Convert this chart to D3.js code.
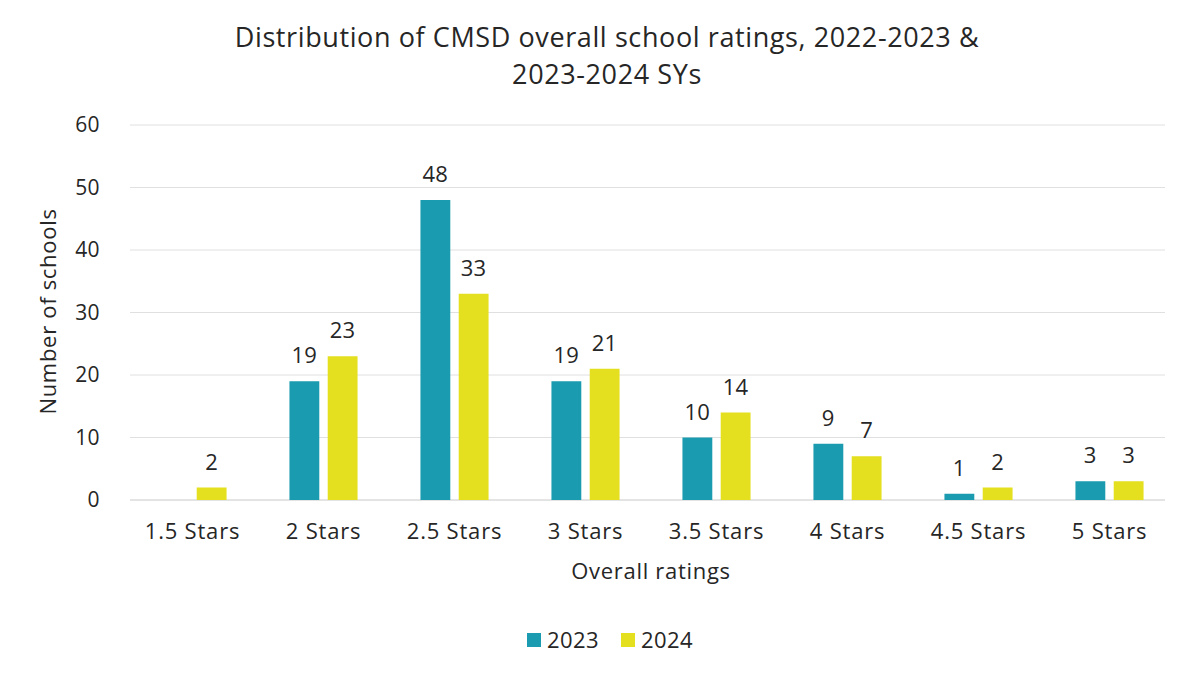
<!DOCTYPE html>
<html>
<head>
<meta charset="utf-8">
<script src="https://cdn.jsdelivr.net/npm/d3@7"></script>
<style>
  body { margin: 0; background: #fff; }
  text { font-family: "Open Sans", "Liberation Sans", Arial, sans-serif; fill: #262626; letter-spacing: 0.4px; }
</style>
</head>
<body>
<div id="Chart"></div>
<script>
var categories = ["1.5 Stars", "2 Stars", "2.5 Stars", "3 Stars", "3.5 Stars", "4 Stars", "4.5 Stars", "5 Stars"];
var seriesNames = ["2023", "2024"];
var values2023 = [0, 19, 48, 19, 10, 9, 1, 3];
var values2024 = [2, 23, 33, 21, 14, 7, 2, 3];
var yTicks = [0, 10, 20, 30, 40, 50, 60];
var colors = {"2023": "#1a9bb0", "2024": "#e4e01f"};

var data = categories.map(function(c, i) {
  return {cat: c, vals: [{s: "2023", v: values2023[i]}, {s: "2024", v: values2024[i]}]};
});

var W = 1181, H = 677;
var margin = {top: 125, right: 6, bottom: 177, left: 127},
    width = W - margin.left - margin.right,
    height = H - margin.top - margin.bottom;

var svg = d3.select("#Chart").append("svg")
    .attr("width", W).attr("height", H);

var g = svg.append("g")
    .attr("transform", "translate(" + margin.left + "," + margin.top + ")");

var x = d3.scaleBand().domain(categories).range([0, width]).paddingInner(0.48).paddingOuter(0.24);
var xs = d3.scaleBand().domain(seriesNames).range([0, x.bandwidth()]).paddingInner(0.22);
var y = d3.scaleLinear().domain([0, 60]).range([height, 0]);

// gridlines
g.selectAll(".grid").data(yTicks).enter().append("line")
  .attr("x1", 3).attr("x2", width - 10)
  .attr("y1", function(d) { return y(d); }).attr("y2", function(d) { return y(d); })
  .attr("stroke", function(d) { return d === 0 ? "#c8c8c8" : "#e0e0e0"; })
  .attr("stroke-width", 1);

// y tick labels
g.selectAll(".ytick").data(yTicks).enter().append("text")
  .attr("x", -27).attr("y", function(d) { return y(d); })
  .attr("dy", "0.35em").attr("text-anchor", "end")
  .style("font-size", "21px")
  .text(function(d) { return d; });

// x tick labels
g.selectAll(".xtick").data(categories).enter().append("text")
  .attr("x", function(d) { return x(d) + x.bandwidth() / 2; })
  .attr("y", height + 39)
  .attr("text-anchor", "middle")
  .style("font-size", "22px").style("letter-spacing", "0.8px")
  .text(function(d) { return d; });

// bars
var groups = g.selectAll(".grp").data(data).enter().append("g")
  .attr("transform", function(d) { return "translate(" + x(d.cat) + ",0)"; });

groups.selectAll("rect").data(function(d) { return d.vals.filter(function(e) { return e.v > 0; }); })
  .enter().append("rect")
  .attr("x", function(d) { return xs(d.s); })
  .attr("y", function(d) { return y(d.v); })
  .attr("width", xs.bandwidth())
  .attr("height", function(d) { return height - y(d.v); })
  .attr("fill", function(d) { return colors[d.s]; });

groups.selectAll(".val").data(function(d) { return d.vals.filter(function(e) { return e.v > 0; }); })
  .enter().append("text")
  .attr("x", function(d) { return xs(d.s) + xs.bandwidth() / 2; })
  .attr("y", function(d) { return y(d.v) - 18; })
  .attr("text-anchor", "middle")
  .style("font-size", "22px")
  .text(function(d) { return d.v; });

// title
svg.append("text").attr("x", 607).attr("y", 47).attr("text-anchor", "middle")
  .style("font-size", "27px").style("letter-spacing", "0.6px")
  .text("Distribution of CMSD overall school ratings, 2022-2023 &");
svg.append("text").attr("x", 607).attr("y", 84).attr("text-anchor", "middle")
  .style("font-size", "27px").style("letter-spacing", "0.6px")
  .text("2023-2024 SYs");

// axis titles
svg.append("text").attr("x", 651).attr("y", 579).attr("text-anchor", "middle")
  .style("font-size", "22px").style("letter-spacing", "0.7px").text("Overall ratings");
svg.append("text")
  .attr("transform", "translate(56," + (margin.top + height / 2 - 1) + ") rotate(-90)")
  .attr("text-anchor", "middle")
  .style("font-size", "22px").style("letter-spacing", "0.7px").text("Number of schools");

// legend
var legend = svg.append("g").attr("transform", "translate(527,633)");
var lg = legend.selectAll("g").data(seriesNames).enter().append("g")
  .attr("transform", function(d, i) { return "translate(" + (i * 94) + ",0)"; });
lg.append("rect").attr("width", 14).attr("height", 14).attr("fill", function(d) { return colors[d]; });
lg.append("text").attr("x", 20).attr("y", 7).attr("dy", "0.36em")
  .style("font-size", "22px").text(function(d) { return d; });
</script>
</body>
</html>
